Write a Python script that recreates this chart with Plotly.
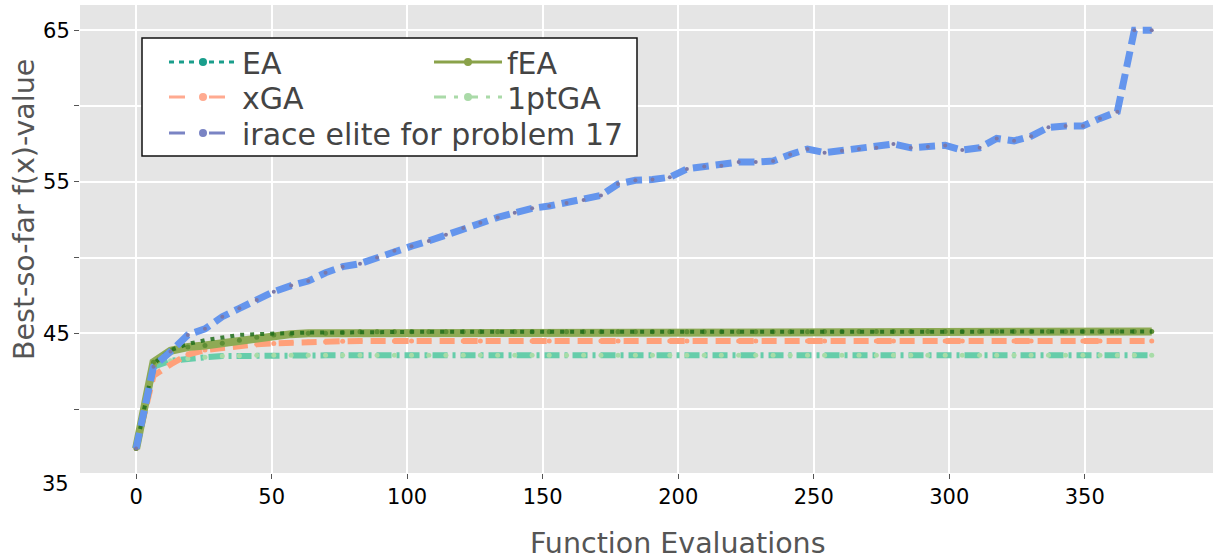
import plotly.graph_objects as go

# ---------------- data ----------------
evals = [0, 6.4, 12.7, 19.1, 25.4, 31.8, 38.1, 44.5, 50.8, 57.2,
         63.5, 69.9, 76.2, 82.6, 88.9, 95.3, 101.6, 108, 114.3, 120.7,
         127, 133.4, 139.7, 146.1, 152.4, 158.8, 165.1, 171.5, 177.8, 184.2,
         190.5, 196.9, 203.2, 209.6, 215.9, 222.3, 228.6, 235, 241.3, 247.7,
         254, 260.4, 266.7, 273.1, 279.4, 285.8, 292.1, 298.5, 304.8, 311.2,
         317.5, 323.9, 330.2, 336.6, 342.9, 349.3, 355.6, 362, 368.3, 374.7]

ea = [37.4, 43.0, 43.9, 44.3, 44.55, 44.75, 44.9, 44.95, 45.0, 45.02,
      45.05, 45.05, 45.07, 45.08, 45.1, 45.1, 45.1, 45.1, 45.1, 45.1,
      45.1, 45.1, 45.1, 45.1, 45.1, 45.1, 45.1, 45.1, 45.1, 45.1,
      45.1, 45.1, 45.1, 45.1, 45.1, 45.1, 45.1, 45.1, 45.1, 45.1,
      45.12, 45.12, 45.12, 45.12, 45.12, 45.12, 45.12, 45.12, 45.12, 45.12,
      45.12, 45.12, 45.12, 45.12, 45.12, 45.12, 45.12, 45.12, 45.12, 45.12]

fea = [37.4, 43.1, 43.85, 44.1, 44.2, 44.35, 44.55, 44.75, 44.9, 44.95,
       45.0, 45.0, 45.05, 45.1, 45.1, 45.1, 45.1, 45.1, 45.1, 45.1,
       45.1, 45.1, 45.1, 45.1, 45.1, 45.1, 45.1, 45.1, 45.1, 45.1,
       45.1, 45.1, 45.1, 45.1, 45.1, 45.1, 45.1, 45.1, 45.1, 45.1,
       45.12, 45.12, 45.12, 45.12, 45.12, 45.12, 45.12, 45.12, 45.12, 45.12,
       45.12, 45.12, 45.12, 45.12, 45.12, 45.12, 45.12, 45.12, 45.12, 45.12]

xga = [37.4, 42.2, 42.95, 43.6, 43.9, 44.05, 44.18, 44.28, 44.34, 44.4,
       44.43, 44.45, 44.48, 44.5, 44.5, 44.5, 44.5, 44.5, 44.5, 44.5,
       44.5, 44.5, 44.5, 44.5, 44.5, 44.5, 44.5, 44.5, 44.5, 44.5,
       44.5, 44.5, 44.5, 44.5, 44.5, 44.5, 44.5, 44.5, 44.5, 44.5,
       44.5, 44.5, 44.5, 44.5, 44.5, 44.5, 44.5, 44.5, 44.5, 44.5,
       44.5, 44.5, 44.5, 44.5, 44.5, 44.5, 44.5, 44.5, 44.5, 44.5]

onept_ga = [37.4, 42.8, 43.2, 43.35, 43.42, 43.5, 43.52, 43.55, 43.55, 43.55,
            43.55, 43.55, 43.55, 43.55, 43.55, 43.55, 43.55, 43.55, 43.55, 43.55,
            43.55, 43.55, 43.55, 43.55, 43.55, 43.55, 43.55, 43.55, 43.55, 43.55,
            43.55, 43.55, 43.55, 43.55, 43.55, 43.55, 43.55, 43.55, 43.55, 43.55,
            43.55, 43.55, 43.55, 43.55, 43.55, 43.55, 43.55, 43.55, 43.55, 43.55,
            43.55, 43.55, 43.55, 43.55, 43.55, 43.55, 43.55, 43.55, 43.55, 43.55]

irace = [37.4, 42.8, 43.8, 44.9, 45.3, 46.1, 46.65, 47.2, 47.75, 48.15,
         48.45, 49.0, 49.4, 49.6, 50.0, 50.45, 50.75, 51.1, 51.5, 51.95,
         52.3, 52.65, 52.95, 53.25, 53.4, 53.6, 53.8, 54.1, 54.85, 55.1,
         55.15, 55.3, 55.85, 56.0, 56.05, 56.3, 56.3, 56.37, 56.8, 57.16,
         56.92, 57.05, 57.16, 57.25, 57.49, 57.24, 57.31, 57.4, 57.09, 57.24,
         57.86, 57.7, 58.01, 58.59, 58.68, 58.68, 59.18, 59.62, 65.0, 65.0]

x_ticks = [0, 50, 100, 150, 200, 250, 300, 350]
y_ticks = [40, 45, 50, 55, 60, 65]
y_ticktext = ["", "45", "", "55", "", "65"]

fig = go.Figure()

# ---------------- plotted series ----------------
fig.add_trace(go.Scatter(x=evals, y=onept_ga, mode="lines+markers", showlegend=False,
                         line=dict(color="#66CDAA", width=6, dash="15px,5px,3px,5px"),
                         marker=dict(color="#A8DCA8", size=5)))
fig.add_trace(go.Scatter(x=evals, y=xga, mode="lines+markers", showlegend=False,
                         line=dict(color="#FFA07A", width=6, dash="15px,8px"),
                         marker=dict(color="#FFA07A", size=5)))
fig.add_trace(go.Scatter(x=evals, y=fea, mode="lines+markers", showlegend=False,
                         line=dict(color="#8EAA55", width=8),
                         marker=dict(color="#5E8E35", size=5)))
fig.add_trace(go.Scatter(x=evals, y=ea, mode="lines", showlegend=False, opacity=0.85,
                         line=dict(color="#1F6E1A", width=4, dash="4px,6px")))
fig.add_trace(go.Scatter(x=evals, y=irace, mode="lines+markers", showlegend=False,
                         line=dict(color="#6495ED", width=7, dash="16px,7px"),
                         marker=dict(color="#7B78A8", size=4)))

# ---------------- legend entries ----------------
leg_specs = [
    ("EA", "#1A9E8C", "5px,5px", "legend"),
    ("xGA", "#FFAA90", "16px,24px", "legend2"),
    ("irace elite for problem 17", "#7A84C4", "16px,24px", "legend3"),
    ("fEA", "#8AA24A", "solid", "legend4"),
    ("1ptGA", "#AADAA8", "12px,8px,4px,8px", "legend5"),
]
for name, col, dash, leg in leg_specs:
    fig.add_trace(go.Scatter(x=[None], y=[None], mode="lines+markers", name=name,
                             legend=leg,
                             line=dict(color=col, width=3, dash=dash),
                             marker=dict(color=col, size=8)))

W, H = 1217, 560
L, R, T, B = 80, 4, 5, 87
pw, ph = W - L - R, H - T - B


def px_x(px):
    return (px - L) / pw


def px_y(py):
    return (H - B - py) / ph


leg_font = dict(family="DejaVu Sans", size=30, color="#444444")
col_left = [164, 429]
row_mid = [62, 97, 133]
leg_pos = {
    "legend": (col_left[0], row_mid[0]),
    "legend2": (col_left[0], row_mid[1]),
    "legend3": (col_left[0], row_mid[2]),
    "legend4": (col_left[1], row_mid[0]),
    "legend5": (col_left[1], row_mid[1]),
}
leg_layout = {}
for k, (lx, ly) in leg_pos.items():
    leg_layout[k] = dict(x=px_x(lx), y=px_y(ly), xanchor="left", yanchor="middle",
                         bgcolor="rgba(0,0,0,0)", borderwidth=0, font=leg_font,
                         itemwidth=68)

fig.update_layout(
    width=W, height=H,
    margin=dict(l=L, r=R, t=T, b=B),
    paper_bgcolor="white",
    plot_bgcolor="#E5E5E5",
    font=dict(family="DejaVu Sans"),
    xaxis=dict(range=[-20.7, 397.3], tickvals=x_ticks, ticks="outside", ticklen=5,
               tickcolor="#555555", tickfont=dict(size=21, color="black"),
               showgrid=True, gridcolor="white", gridwidth=1.5, zeroline=False,
               showline=False),
    yaxis=dict(range=[35.79, 66.66], tickvals=y_ticks, ticktext=y_ticktext,
               ticks="outside", ticklen=5, tickcolor="#555555",
               tickfont=dict(size=21, color="black"),
               showgrid=True, gridcolor="white", gridwidth=1.5, zeroline=False,
               showline=False),
    shapes=[dict(type="rect", xref="paper", yref="paper",
                 x0=px_x(142), x1=px_x(637), y0=px_y(156), y1=px_y(38),
                 fillcolor="white", line=dict(color="#111111", width=1.5),
                 layer="above")],
    annotations=[
        dict(text="35", xref="paper", yref="paper", x=0, y=px_y(484),
             xanchor="right", yanchor="middle", xshift=-9, showarrow=False,
             font=dict(size=21, color="black")),
        dict(text="Function Evaluations", xref="paper", yref="paper",
             x=px_x(678), y=px_y(543), xanchor="center", yanchor="middle",
             showarrow=False, font=dict(size=28.5, color="#555555")),
        dict(text="Best-so-far f(x)-value", xref="paper", yref="paper",
             x=px_x(24), y=px_y(210), xanchor="center", yanchor="middle",
             textangle=-90, showarrow=False, font=dict(size=28.5, color="#555555")),
    ],
    **leg_layout,
)

fig.write_html("out.html")
